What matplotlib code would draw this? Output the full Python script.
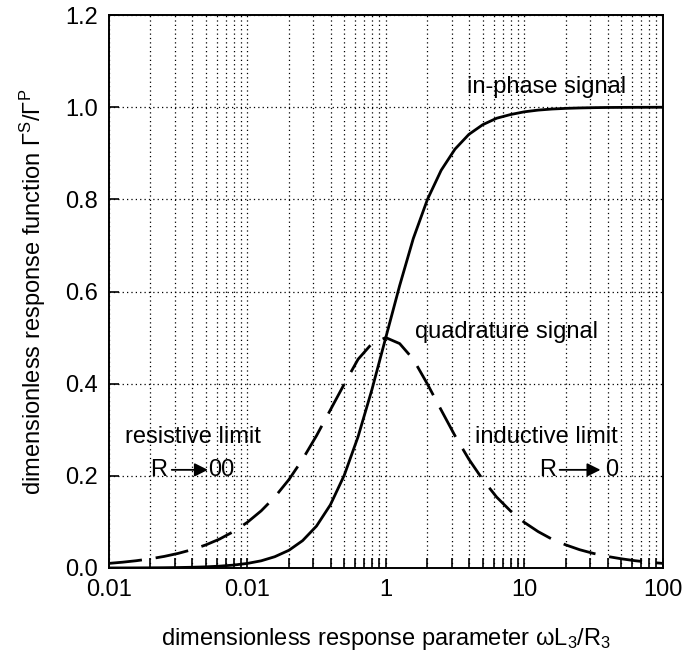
import matplotlib
matplotlib.use('Agg')
import matplotlib.pyplot as plt
from matplotlib.ticker import FixedLocator, LogLocator, NullFormatter

matplotlib.rc('font', family='Liberation Sans', size=17)
matplotlib.rcParams['mathtext.fontset'] = 'custom'
matplotlib.rcParams['mathtext.rm'] = 'Liberation Sans'
matplotlib.rcParams['mathtext.default'] = 'regular'

# response parameter (about ten points per decade)
x_vals = [0.01, 0.0126, 0.0158, 0.02, 0.0251, 0.0316, 0.0398, 0.0501, 0.0631, 0.0794,
          0.1, 0.126, 0.158, 0.2, 0.251, 0.316, 0.398, 0.501, 0.631, 0.794,
          1.0, 1.26, 1.58, 2.0, 2.51, 3.16, 3.98, 5.01, 6.31, 7.94,
          10.0, 12.6, 15.8, 20.0, 25.1, 31.6, 39.8, 50.1, 63.1, 79.4, 100.0]
# in-phase signal (solid)
in_phase = [0.0001, 0.00016, 0.00025, 0.0004, 0.00063, 0.001, 0.0016, 0.0025, 0.004, 0.0063,
            0.0099, 0.0156, 0.0245, 0.0385, 0.0594, 0.0909, 0.137, 0.201, 0.285, 0.387,
            0.5, 0.613, 0.715, 0.8, 0.863, 0.909, 0.941, 0.962, 0.976, 0.984,
            0.99, 0.9937, 0.996, 0.9975, 0.9984, 0.999, 0.9994, 0.9996, 0.9997, 0.9998, 0.9999]
# quadrature signal (dashed)
quadrature = [0.01, 0.0126, 0.0158, 0.02, 0.0251, 0.0316, 0.0397, 0.05, 0.0628, 0.0789,
              0.099, 0.124, 0.154, 0.192, 0.236, 0.287, 0.343, 0.399, 0.453, 0.487,
              0.5, 0.487, 0.453, 0.399, 0.343, 0.287, 0.236, 0.192, 0.154, 0.124,
              0.099, 0.0789, 0.0628, 0.05, 0.0397, 0.0316, 0.0251, 0.02, 0.0158, 0.0126, 0.01]

x_major = [0.01, 0.1, 1, 10, 100]
x_major_labels = ['0.01', '0.01', '1', '10', '100']
y_major = [0.0, 0.2, 0.4, 0.6, 0.8, 1.0, 1.2]

fig = plt.figure(figsize=(6.84, 6.54), dpi=100)
ax = fig.add_axes([0.159, 0.1315, 0.81, 0.8455])

ax.plot(x_vals, in_phase, color='black', linewidth=2, solid_capstyle='butt')
ax.plot(x_vals, quadrature, color='black', linewidth=2, dashes=(12, 5))

ax.set_xscale('log')
ax.set_xlim(0.01, 100)
ax.set_ylim(0, 1.2)

ax.xaxis.set_major_locator(FixedLocator(x_major))
ax.set_xticklabels(x_major_labels)
ax.xaxis.set_minor_locator(LogLocator(base=10, subs=range(2, 10)))
ax.xaxis.set_minor_formatter(NullFormatter())
ax.set_yticks(y_major)
ax.set_yticklabels([f'{v:.1f}' for v in y_major])

ax.tick_params(axis='both', which='both', direction='in', length=7, width=1.2,
               top=False, right=False, pad=8)
ax.grid(True, which='both', axis='x', linestyle=(0, (1, 2.5)), color='black', linewidth=0.9)
ax.grid(True, which='major', axis='y', linestyle=(0, (1, 2.5)), color='black', linewidth=0.9)
for sp in ax.spines.values():
    sp.set_linewidth(1.4)

ax.set_xlabel('dimensionless response parameter ωL$_3$/R$_3$', labelpad=18)
ax.set_ylabel('dimensionless response function Γ$^S$/Γ$^P$', labelpad=12)

ax.text(14.5, 1.044, 'in-phase signal', ha='center', va='center')
ax.text(7.5, 0.512, 'quadrature signal', ha='center', va='center')
ax.text(0.0405, 0.284, 'resistive limit', ha='center', va='center')
ax.text(14.5, 0.284, 'inductive limit', ha='center', va='center')

# R -> infinity / R -> 0 arrows
ax.text(0.023, 0.213, 'R', ha='center', va='center')
ax.annotate('', xy=(0.052, 0.213), xytext=(0.0285, 0.213),
            arrowprops=dict(arrowstyle='-|>', color='black', lw=1.3, mutation_scale=20,
                            shrinkA=0, shrinkB=0))
ax.text(0.0525, 0.213, '00', ha='left', va='center')
ax.text(14.8, 0.213, 'R', ha='center', va='center')
ax.annotate('', xy=(35.5, 0.213), xytext=(18.0, 0.213),
            arrowprops=dict(arrowstyle='-|>', color='black', lw=1.3, mutation_scale=20,
                            shrinkA=0, shrinkB=0))
ax.text(42.8, 0.213, '0', ha='center', va='center')

fig.savefig('out.png', dpi=100)
